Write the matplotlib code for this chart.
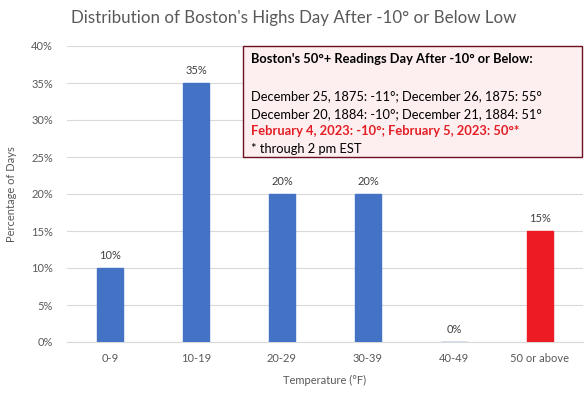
import matplotlib.pyplot as plt
from matplotlib.ticker import PercentFormatter

# Chart data
categories = ['0-9', '10-19', '20-29', '30-39', '40-49', '50 or above']
pct_days = [10, 35, 20, 20, 0, 15]
bar_colors = ['#4472C4', '#4472C4', '#4472C4', '#4472C4', '#4472C4', '#ED1C24']
y_ticks = [0, 5, 10, 15, 20, 25, 30, 35, 40]

plt.rcParams['font.family'] = ['Lato', 'DejaVu Sans']
grey = '#595959'

fig = plt.figure(figsize=(5.88, 3.93), dpi=100)
ax = fig.add_axes([67 / 588, 1 - 342 / 393, 516 / 588, 296 / 393])

bars = ax.bar(categories, pct_days, width=0.31, color=bar_colors,
              edgecolor=bar_colors, linewidth=1.0, zorder=3)

# data labels above bars
for rect, v in zip(bars, pct_days):
    ax.annotate(f'{v}%', xy=(rect.get_x() + rect.get_width() / 2, v),
                xytext=(0, 5), textcoords='offset points',
                ha='center', va='bottom', fontsize=8, color='#404040')

ax.set_ylim(0, 40)
ax.set_xlim(-0.5, len(categories) - 0.5)
ax.set_yticks(y_ticks)
ax.yaxis.set_major_formatter(PercentFormatter(decimals=0))
ax.grid(axis='y', color='#D9D9D9', linewidth=0.8, zorder=0)
for s in ['top', 'right', 'left']:
    ax.spines[s].set_visible(False)
ax.spines['bottom'].set_color('#D9D9D9')
ax.tick_params(axis='both', length=0, labelsize=8, labelcolor=grey, pad=8)
ax.tick_params(axis='y', pad=10)

ax.set_xlabel('Temperature (°F)', fontsize=8, color=grey, labelpad=8)
ax.set_ylabel('Percentage of Days', fontsize=8, color=grey, labelpad=10)
fig.text(0.5, 0.955, "Distribution of Boston's Highs Day After -10° or Below Low",
         ha='center', va='center', fontsize=12.2, color=grey)

# annotation box
box = plt.Rectangle((243 / 588, 1 - 157 / 393), 339 / 588, 111 / 393,
                    transform=fig.transFigure, facecolor='#FDEEEF',
                    edgecolor='#6B1020', linewidth=1.0, zorder=5)
fig.add_artist(box)
x0 = 251 / 588
lines = [
    ("Boston's 50°+ Readings Day After -10° or Below:", 'bold', 'black', 59),
    ('December 25, 1875: -11°; December 26, 1875: 55°', 'normal', 'black', 96),
    ('December 20, 1884: -10°; December 21, 1884: 51°', 'normal', 'black', 114),
    ('February 4, 2023: -10°; February 5, 2023: 50°*', 'bold', '#E31E24', 131),
    ('* through 2 pm EST', 'normal', 'black', 149),
]
for txt, w, c, ypx in lines:
    fig.text(x0, 1 - ypx / 393, txt, ha='left', va='center', fontsize=9.3,
             fontweight=w, color=c, zorder=6)

fig.savefig('out.png', dpi=100)
